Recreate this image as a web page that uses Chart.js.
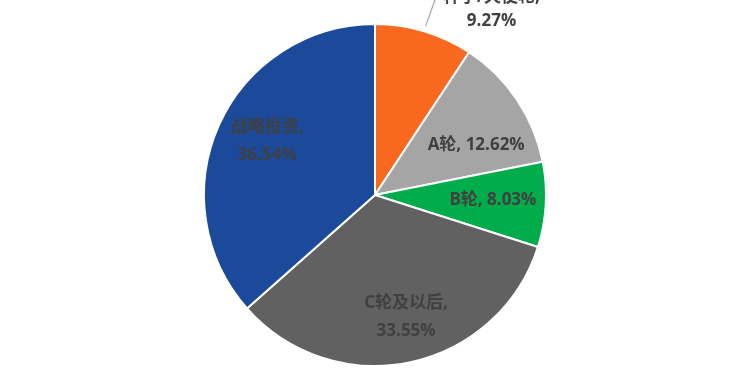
<!DOCTYPE html>
<html>
<head>
<meta charset="utf-8">
<script src="https://cdn.jsdelivr.net/npm/chart.js@4.4.0/dist/chart.umd.min.js"></script>
<style>
  html, body { margin: 0; padding: 0; background: #fff; }
  #wrap { width: 750px; height: 389px; position: relative; }
</style>
</head>
<body>
<div id="wrap"><canvas id="myChart"></canvas></div>
<script>
// rounds and their share of deals (%)
const rounds = ['种子/天使轮', 'A轮', 'B轮', 'C轮及以后', '战略投资'];
const shares = [9.27, 12.62, 8.03, 33.55, 36.54];
const colors = ['#F8691F', '#A5A5A5', '#00AD4A', '#616161', '#1B4A9B'];

// where each label sits: fraction of radius, angle shift in degrees, split into two lines?
const labelSpots = [
  { r: 1.0, shift: 0, twoLines: true, outside: true },
  { r: 0.66, shift: 7.6, twoLines: false },
  { r: 0.69, shift: -0.9, twoLines: false },
  { r: 0.736, shift: -2.4, twoLines: true },
  { r: 0.706, shift: 2.4, twoLines: true }
];

const sliceLabels = {
  id: 'sliceLabels',
  afterDatasetsDraw(chart) {
    const ctx = chart.ctx;
    const arcs = chart.getDatasetMeta(0).data;
    ctx.save();
    ctx.font = 'bold 17px "Open Sans", "Noto Sans CJK SC", sans-serif';
    ctx.fillStyle = '#404040';
    ctx.textAlign = 'center';
    ctx.textBaseline = 'middle';
    arcs.forEach((arc, i) => {
      const spot = labelSpots[i];
      const mid = (arc.startAngle + arc.endAngle) / 2 + spot.shift * Math.PI / 180;
      const pct = shares[i].toFixed(2) + '%';
      if (spot.outside) {
        // leader line from edge of slice up to the label
        const x0 = arc.x + Math.cos(mid) * (arc.outerRadius + 5);
        const y0 = arc.y + Math.sin(mid) * (arc.outerRadius + 5);
        ctx.strokeStyle = '#A6A6A6';
        ctx.lineWidth = 1.2;
        ctx.beginPath();
        ctx.moveTo(x0, y0);
        ctx.lineTo(x0 + 10, y0 - 28);
        ctx.stroke();
        ctx.fillText(rounds[i] + ',', x0 + 66, y0 - 29);
        ctx.fillText(pct, x0 + 66, y0 - 5);
        return;
      }
      const x = arc.x + Math.cos(mid) * arc.outerRadius * spot.r;
      const y = arc.y + Math.sin(mid) * arc.outerRadius * spot.r;
      if (spot.twoLines) {
        ctx.fillText(rounds[i] + ',', x, y - 14);
        ctx.fillText(pct, x, y + 14);
      } else {
        ctx.fillText(rounds[i] + ', ' + pct, x, y);
      }
    });
    ctx.restore();
  }
};

new Chart(document.getElementById('myChart'), {
  type: 'pie',
  data: {
    labels: rounds,
    datasets: [{
      data: shares,
      backgroundColor: colors,
      borderColor: '#ffffff',
      borderWidth: 2
    }]
  },
  options: {
    responsive: true,
    maintainAspectRatio: false,
    animation: false,
    layout: { padding: { top: 23, bottom: 22 } },
    plugins: {
      legend: { display: false },
      tooltip: { enabled: false }
    }
  },
  plugins: [sliceLabels]
});
</script>
</body>
</html>
